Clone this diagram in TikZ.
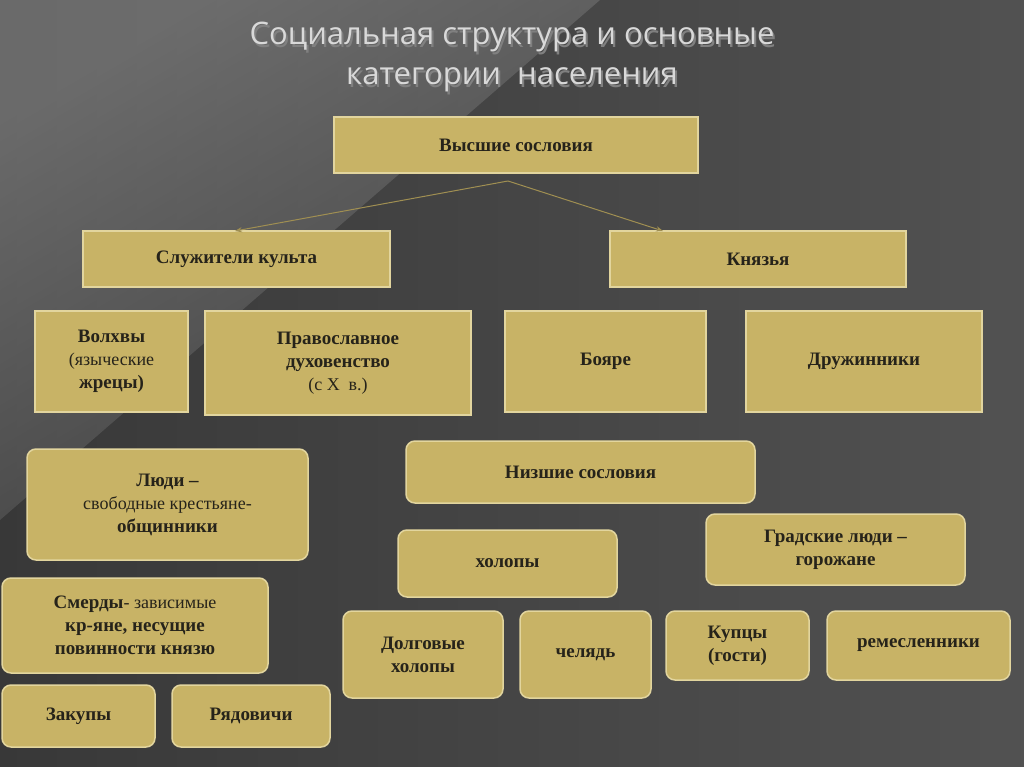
\documentclass[tikz,border=0pt]{standalone}
\usepackage{fontspec}
\setmainfont{Liberation Serif}
\newfontfamily\titlefont{Open Sans}
\usetikzlibrary{arrows.meta}
\definecolor{boxfill}{HTML}{C8B366}
\definecolor{boxedge}{HTML}{E2D59E}
\definecolor{txt}{HTML}{26231A}
\newcommand\smf{\mdseries\fontsize{18}{22}\selectfont}
\newcommand\bb[5]{\node[#1,minimum width=#4-#2,minimum height=#5-#3] at ({(#2+#4)/2},{(#3+#5)/2})}
\begin{document}
\begin{tikzpicture}[x=1pt,y=-1pt,
  bx/.style={draw=boxedge,line width=1.5pt,fill=boxfill,text=txt,align=center,font=\fontsize{19}{23}\selectfont\bfseries,inner sep=0pt},
  rb/.style={bx,rounded corners=9pt}]
\shade[left color=black!78,right color=black!68] (0,0) rectangle (1024,767);
\shade[top color=black!45,bottom color=black!75,shading angle=30,opacity=0.6] (0,0) -- (600,0) -- (0,520) -- cycle;
\useasboundingbox (0,0) rectangle (1024,767);
\node[text=black!50,font=\titlefont\fontsize{31}{40}\selectfont,align=center] at (514,60) {Социальная структура и основные\\категории \ населения};
\node[text=black!15,font=\titlefont\fontsize{31}{40}\selectfont,align=center] (title) at (512,57) {Социальная структура и основные\\категории \ населения};
\bb{bx}{334}{117}{698}{173} (vs) {Высшие сословия};
\bb{bx}{83}{231}{390}{287} (sk) {Служители культа};
\bb{bx}{610}{231}{906}{287} (kn) {Князья};
\bb{bx}{35}{311}{188}{412} (vo) {Волхвы\\\smf (языческие\\жрецы)};
\bb{bx}{205}{311}{471}{415} (pd) {Православное\\духовенство\\\smf (с X \ в.)};
\bb{bx}{505}{311}{706}{412} (bo) {Бояре};
\bb{bx}{746}{311}{982}{412} (dr) {Дружинники};
\bb{rb}{27}{449}{308}{560} (lu) {Люди –\\\smf свободные крестьяне-\\общинники};
\bb{rb}{406}{441}{755}{503} (ns) {Низшие сословия};
\bb{rb}{706}{514}{965}{585} (gr) {Градские люди –\\горожане};
\bb{rb}{398}{530}{617}{597} (ho) {холопы};
\bb{rb}{2}{578}{268}{673} (sm) {Смерды\smf - зависимые\\кр-яне, несущие\\повинности князю};
\bb{rb}{343}{611}{503}{698} (dh) {Долговые\\холопы};
\bb{rb}{520}{611}{651}{698} (ch) {челядь};
\bb{rb}{666}{611}{809}{680} (ku) {Купцы\\(гости)};
\bb{rb}{827}{611}{1010}{680} (re) {ремесленники};
\bb{rb}{2}{685}{155}{747} (za) {Закупы};
\bb{rb}{172}{685}{330}{747} (ry) {Рядовичи};
\coordinate (src) at (508,181);
\coordinate (t1) at (235,231);
\coordinate (t2) at (663,231);
\draw[draw=boxfill!80!black,line width=1pt,-{Stealth[length=7pt]}] (src) -- (t1);
\draw[draw=boxfill!80!black,line width=1pt,-{Stealth[length=7pt]}] (src) -- (t2);
\end{tikzpicture}
\end{document}
